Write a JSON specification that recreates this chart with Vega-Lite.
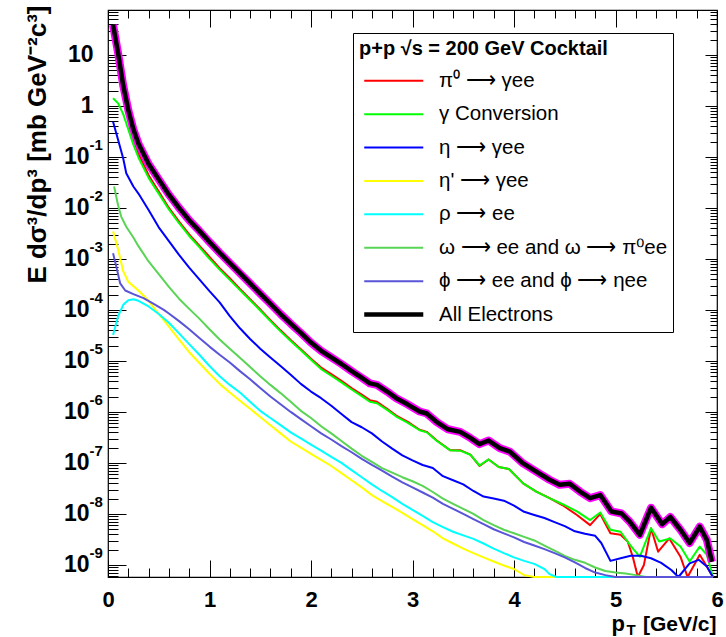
{
  "$schema": "https://vega.github.io/schema/vega-lite/v6.json",
  "width": 609,
  "height": 567,
  "autosize": {"type": "none"},
  "padding": {"left": 108, "top": 10, "right": 9, "bottom": 60},
  "background": "white",
  "config": {
    "view": {"stroke": "black", "strokeWidth": 1.2},
    "axis": {
      "grid": false, "domain": false, "tickColor": "black", "tickWidth": 1,
      "labelColor": "black", "titleColor": "black",
      "labelFont": "Liberation Sans", "titleFont": "Liberation Sans",
      "labelFontWeight": "bold", "titleFontWeight": "bold",
      "labelOverlap": false, "labelFlush": false, "labelBound": false
    }
  },
  "data": {"values": [
    {"s":"π⁰ ⟶ γee","p":0.05,"v":35.5},{"s":"π⁰ ⟶ γee","p":0.1,"v":9.12},{"s":"π⁰ ⟶ γee","p":0.15,"v":2.0},{"s":"π⁰ ⟶ γee","p":0.2,"v":0.603},{"s":"π⁰ ⟶ γee","p":0.25,"v":0.234},{"s":"π⁰ ⟶ γee","p":0.3,"v":0.115},{"s":"π⁰ ⟶ γee","p":0.4,"v":0.0437},{"s":"π⁰ ⟶ γee","p":0.5,"v":0.0209},{"s":"π⁰ ⟶ γee","p":0.6,"v":0.01},{"s":"π⁰ ⟶ γee","p":0.7,"v":0.00537},{"s":"π⁰ ⟶ γee","p":0.8,"v":0.00302},{"s":"π⁰ ⟶ γee","p":0.9,"v":0.00182},{"s":"π⁰ ⟶ γee","p":1.0,"v":0.0011},{"s":"π⁰ ⟶ γee","p":1.1,"v":6.61e-4},{"s":"π⁰ ⟶ γee","p":1.2,"v":4.17e-4},{"s":"π⁰ ⟶ γee","p":1.3,"v":2.57e-4},{"s":"π⁰ ⟶ γee","p":1.4,"v":1.62e-4},{"s":"π⁰ ⟶ γee","p":1.5,"v":1.02e-4},{"s":"π⁰ ⟶ γee","p":1.6,"v":6.31e-5},{"s":"π⁰ ⟶ γee","p":1.7,"v":3.98e-5},{"s":"π⁰ ⟶ γee","p":1.8,"v":2.57e-5},{"s":"π⁰ ⟶ γee","p":1.9,"v":1.7e-5},{"s":"π⁰ ⟶ γee","p":2.0,"v":1.1e-5},{"s":"π⁰ ⟶ γee","p":2.1,"v":7.41e-6},{"s":"π⁰ ⟶ γee","p":2.2,"v":5.5e-6},{"s":"π⁰ ⟶ γee","p":2.3,"v":4.07e-6},{"s":"π⁰ ⟶ γee","p":2.4,"v":2.95e-6},{"s":"π⁰ ⟶ γee","p":2.5,"v":2.19e-6},{"s":"π⁰ ⟶ γee","p":2.58,"v":1.7e-6},{"s":"π⁰ ⟶ γee","p":2.65,"v":1.58e-6},{"s":"π⁰ ⟶ γee","p":2.75,"v":1.15e-6},{"s":"π⁰ ⟶ γee","p":2.84,"v":8.51e-7},{"s":"π⁰ ⟶ γee","p":2.95,"v":6.46e-7},{"s":"π⁰ ⟶ γee","p":3.07,"v":4.47e-7},{"s":"π⁰ ⟶ γee","p":3.14,"v":4.07e-7},{"s":"π⁰ ⟶ γee","p":3.24,"v":2.75e-7},{"s":"π⁰ ⟶ γee","p":3.37,"v":1.78e-7},{"s":"π⁰ ⟶ γee","p":3.47,"v":1.78e-7},{"s":"π⁰ ⟶ γee","p":3.57,"v":1.45e-7},{"s":"π⁰ ⟶ γee","p":3.66,"v":8.71e-8},{"s":"π⁰ ⟶ γee","p":3.75,"v":1.17e-7},{"s":"π⁰ ⟶ γee","p":3.85,"v":8.32e-8},{"s":"π⁰ ⟶ γee","p":3.95,"v":7.59e-8},{"s":"π⁰ ⟶ γee","p":4.09,"v":3.98e-8},{"s":"π⁰ ⟶ γee","p":4.22,"v":2.75e-8},{"s":"π⁰ ⟶ γee","p":4.35,"v":2.04e-8},{"s":"π⁰ ⟶ γee","p":4.48,"v":1.48e-8},{"s":"π⁰ ⟶ γee","p":4.62,"v":9.55e-9},{"s":"π⁰ ⟶ γee","p":4.75,"v":6.03e-9},{"s":"π⁰ ⟶ γee","p":4.85,"v":1.0e-8},{"s":"π⁰ ⟶ γee","p":4.95,"v":4.17e-9},{"s":"π⁰ ⟶ γee","p":5.05,"v":3.89e-9},{"s":"π⁰ ⟶ γee","p":5.12,"v":2.88e-9},{"s":"π⁰ ⟶ γee","p":5.17,"v":1.45e-9},{"s":"π⁰ ⟶ γee","p":5.22,"v":3e-10},{"s":"π⁰ ⟶ γee","p":5.28,"v":1.0e-9},{"s":"π⁰ ⟶ γee","p":5.35,"v":5.25e-9},{"s":"π⁰ ⟶ γee","p":5.42,"v":1.82e-9},{"s":"π⁰ ⟶ γee","p":5.53,"v":3.31e-9},{"s":"π⁰ ⟶ γee","p":5.64,"v":1.45e-9},{"s":"π⁰ ⟶ γee","p":5.71,"v":3e-10},{"s":"π⁰ ⟶ γee","p":5.83,"v":1.58e-9},{"s":"π⁰ ⟶ γee","p":5.9,"v":9.33e-10},{"s":"π⁰ ⟶ γee","p":5.96,"v":3e-10},

    {"s":"γ Conversion","p":0.05,"v":1.41},{"s":"γ Conversion","p":0.1,"v":1.12},{"s":"γ Conversion","p":0.15,"v":0.692},{"s":"γ Conversion","p":0.2,"v":0.347},{"s":"γ Conversion","p":0.25,"v":0.174},{"s":"γ Conversion","p":0.3,"v":0.0977},{"s":"γ Conversion","p":0.4,"v":0.0389},{"s":"γ Conversion","p":0.5,"v":0.0191},{"s":"γ Conversion","p":0.6,"v":0.00933},{"s":"γ Conversion","p":0.7,"v":0.00501},{"s":"γ Conversion","p":0.8,"v":0.00282},{"s":"γ Conversion","p":0.9,"v":0.0017},{"s":"γ Conversion","p":1.0,"v":0.001},{"s":"γ Conversion","p":1.1,"v":6.17e-4},{"s":"γ Conversion","p":1.2,"v":3.89e-4},{"s":"γ Conversion","p":1.3,"v":2.45e-4},{"s":"γ Conversion","p":1.4,"v":1.55e-4},{"s":"γ Conversion","p":1.5,"v":9.77e-5},{"s":"γ Conversion","p":1.6,"v":6.03e-5},{"s":"γ Conversion","p":1.7,"v":3.8e-5},{"s":"γ Conversion","p":1.8,"v":2.45e-5},{"s":"γ Conversion","p":1.9,"v":1.62e-5},{"s":"γ Conversion","p":2.0,"v":1.05e-5},{"s":"γ Conversion","p":2.1,"v":6.92e-6},{"s":"γ Conversion","p":2.2,"v":5.13e-6},{"s":"γ Conversion","p":2.3,"v":3.8e-6},{"s":"γ Conversion","p":2.4,"v":2.75e-6},{"s":"γ Conversion","p":2.5,"v":2.04e-6},{"s":"γ Conversion","p":2.58,"v":1.58e-6},{"s":"γ Conversion","p":2.65,"v":1.48e-6},{"s":"γ Conversion","p":2.75,"v":1.1e-6},{"s":"γ Conversion","p":2.84,"v":8.13e-7},{"s":"γ Conversion","p":2.95,"v":6.17e-7},{"s":"γ Conversion","p":3.07,"v":4.37e-7},{"s":"γ Conversion","p":3.14,"v":3.98e-7},{"s":"γ Conversion","p":3.24,"v":2.69e-7},{"s":"γ Conversion","p":3.37,"v":1.78e-7},{"s":"γ Conversion","p":3.47,"v":1.74e-7},{"s":"γ Conversion","p":3.57,"v":1.45e-7},{"s":"γ Conversion","p":3.66,"v":8.91e-8},{"s":"γ Conversion","p":3.75,"v":1.17e-7},{"s":"γ Conversion","p":3.85,"v":8.32e-8},{"s":"γ Conversion","p":3.95,"v":7.59e-8},{"s":"γ Conversion","p":4.09,"v":3.98e-8},{"s":"γ Conversion","p":4.22,"v":2.75e-8},{"s":"γ Conversion","p":4.35,"v":2.04e-8},{"s":"γ Conversion","p":4.48,"v":1.55e-8},{"s":"γ Conversion","p":4.62,"v":1.12e-8},{"s":"γ Conversion","p":4.75,"v":7.59e-9},{"s":"γ Conversion","p":4.85,"v":1.07e-8},{"s":"γ Conversion","p":4.95,"v":4.9e-9},{"s":"γ Conversion","p":5.05,"v":4.47e-9},{"s":"γ Conversion","p":5.13,"v":2.69e-9},{"s":"γ Conversion","p":5.18,"v":2.0e-9},{"s":"γ Conversion","p":5.24,"v":1.45e-9},{"s":"γ Conversion","p":5.35,"v":5.25e-9},{"s":"γ Conversion","p":5.43,"v":2.88e-9},{"s":"γ Conversion","p":5.54,"v":3.31e-9},{"s":"γ Conversion","p":5.64,"v":2.29e-9},{"s":"γ Conversion","p":5.73,"v":1.17e-9},{"s":"γ Conversion","p":5.83,"v":2.29e-9},{"s":"γ Conversion","p":5.9,"v":1.58e-9},{"s":"γ Conversion","p":5.96,"v":3e-10},

    {"s":"η ⟶ γee","p":0.05,"v":0.49},{"s":"η ⟶ γee","p":0.1,"v":0.214},{"s":"η ⟶ γee","p":0.15,"v":0.0933},{"s":"η ⟶ γee","p":0.18,"v":0.0479},{"s":"η ⟶ γee","p":0.25,"v":0.0263},{"s":"η ⟶ γee","p":0.3,"v":0.0191},{"s":"η ⟶ γee","p":0.4,"v":0.00912},{"s":"η ⟶ γee","p":0.5,"v":0.00417},{"s":"η ⟶ γee","p":0.6,"v":0.00224},{"s":"η ⟶ γee","p":0.7,"v":0.0012},{"s":"η ⟶ γee","p":0.8,"v":6.76e-4},{"s":"η ⟶ γee","p":0.9,"v":3.98e-4},{"s":"η ⟶ γee","p":1.0,"v":2.34e-4},{"s":"η ⟶ γee","p":1.1,"v":1.41e-4},{"s":"η ⟶ γee","p":1.2,"v":7.59e-5},{"s":"η ⟶ γee","p":1.3,"v":4.37e-5},{"s":"η ⟶ γee","p":1.4,"v":2.69e-5},{"s":"η ⟶ γee","p":1.5,"v":1.74e-5},{"s":"η ⟶ γee","p":1.6,"v":1.17e-5},{"s":"η ⟶ γee","p":1.7,"v":7.94e-6},{"s":"η ⟶ γee","p":1.8,"v":5.37e-6},{"s":"η ⟶ γee","p":1.9,"v":3.55e-6},{"s":"η ⟶ γee","p":2.0,"v":2.51e-6},{"s":"η ⟶ γee","p":2.1,"v":1.86e-6},{"s":"η ⟶ γee","p":2.2,"v":1.32e-6},{"s":"η ⟶ γee","p":2.3,"v":9.12e-7},{"s":"η ⟶ γee","p":2.4,"v":6.31e-7},{"s":"η ⟶ γee","p":2.5,"v":5.01e-7},{"s":"η ⟶ γee","p":2.6,"v":3.8e-7},{"s":"η ⟶ γee","p":2.7,"v":2.63e-7},{"s":"η ⟶ γee","p":2.8,"v":1.91e-7},{"s":"η ⟶ γee","p":2.9,"v":1.41e-7},{"s":"η ⟶ γee","p":3.0,"v":1.12e-7},{"s":"η ⟶ γee","p":3.1,"v":9.12e-8},{"s":"η ⟶ γee","p":3.2,"v":7.94e-8},{"s":"η ⟶ γee","p":3.3,"v":5.5e-8},{"s":"η ⟶ γee","p":3.4,"v":4.57e-8},{"s":"η ⟶ γee","p":3.5,"v":3.8e-8},{"s":"η ⟶ γee","p":3.6,"v":2.82e-8},{"s":"η ⟶ γee","p":3.7,"v":2.19e-8},{"s":"η ⟶ γee","p":3.8,"v":2.0e-8},{"s":"η ⟶ γee","p":3.9,"v":1.82e-8},{"s":"η ⟶ γee","p":4.0,"v":1.45e-8},{"s":"η ⟶ γee","p":4.1,"v":1.1e-8},{"s":"η ⟶ γee","p":4.2,"v":9.55e-9},{"s":"η ⟶ γee","p":4.3,"v":8.32e-9},{"s":"η ⟶ γee","p":4.4,"v":6.92e-9},{"s":"η ⟶ γee","p":4.5,"v":5.75e-9},{"s":"η ⟶ γee","p":4.6,"v":4.57e-9},{"s":"η ⟶ γee","p":4.7,"v":4.07e-9},{"s":"η ⟶ γee","p":4.8,"v":3.72e-9},{"s":"η ⟶ γee","p":4.86,"v":2.69e-9},{"s":"η ⟶ γee","p":4.95,"v":1.2e-9},{"s":"η ⟶ γee","p":5.05,"v":1.35e-9},{"s":"η ⟶ γee","p":5.15,"v":1.51e-9},{"s":"η ⟶ γee","p":5.25,"v":1.51e-9},{"s":"η ⟶ γee","p":5.35,"v":1.35e-9},{"s":"η ⟶ γee","p":5.45,"v":1.1e-9},{"s":"η ⟶ γee","p":5.55,"v":7.94e-10},{"s":"η ⟶ γee","p":5.62,"v":3e-10},{"s":"η ⟶ γee","p":5.73,"v":1.07e-9},{"s":"η ⟶ γee","p":5.82,"v":1.26e-9},{"s":"η ⟶ γee","p":5.9,"v":9.33e-10},{"s":"η ⟶ γee","p":5.96,"v":3e-10},

    {"s":"η' ⟶ γee","p":0.05,"v":3.47e-3},{"s":"η' ⟶ γee","p":0.1,"v":1.51e-3},{"s":"η' ⟶ γee","p":0.15,"v":5.75e-4},{"s":"η' ⟶ γee","p":0.2,"v":3.55e-4},{"s":"η' ⟶ γee","p":0.3,"v":2.4e-4},{"s":"η' ⟶ γee","p":0.4,"v":1.51e-4},{"s":"η' ⟶ γee","p":0.5,"v":8.32e-5},{"s":"η' ⟶ γee","p":0.6,"v":4.68e-5},{"s":"η' ⟶ γee","p":0.7,"v":2.63e-5},{"s":"η' ⟶ γee","p":0.8,"v":1.48e-5},{"s":"η' ⟶ γee","p":0.9,"v":9.12e-6},{"s":"η' ⟶ γee","p":1.0,"v":5.62e-6},{"s":"η' ⟶ γee","p":1.1,"v":3.55e-6},{"s":"η' ⟶ γee","p":1.2,"v":2.4e-6},{"s":"η' ⟶ γee","p":1.3,"v":1.66e-6},{"s":"η' ⟶ γee","p":1.4,"v":1.15e-6},{"s":"η' ⟶ γee","p":1.5,"v":7.94e-7},{"s":"η' ⟶ γee","p":1.6,"v":5.5e-7},{"s":"η' ⟶ γee","p":1.7,"v":3.8e-7},{"s":"η' ⟶ γee","p":1.8,"v":2.63e-7},{"s":"η' ⟶ γee","p":1.9,"v":2.0e-7},{"s":"η' ⟶ γee","p":2.0,"v":1.51e-7},{"s":"η' ⟶ γee","p":2.1,"v":1.15e-7},{"s":"η' ⟶ γee","p":2.2,"v":8.71e-8},{"s":"η' ⟶ γee","p":2.3,"v":6.31e-8},{"s":"η' ⟶ γee","p":2.4,"v":4.57e-8},{"s":"η' ⟶ γee","p":2.5,"v":3.31e-8},{"s":"η' ⟶ γee","p":2.6,"v":2.34e-8},{"s":"η' ⟶ γee","p":2.7,"v":1.78e-8},{"s":"η' ⟶ γee","p":2.8,"v":1.38e-8},{"s":"η' ⟶ γee","p":2.9,"v":1.05e-8},{"s":"η' ⟶ γee","p":3.0,"v":7.94e-9},{"s":"η' ⟶ γee","p":3.1,"v":6.03e-9},{"s":"η' ⟶ γee","p":3.2,"v":4.57e-9},{"s":"η' ⟶ γee","p":3.3,"v":3.31e-9},{"s":"η' ⟶ γee","p":3.4,"v":2.63e-9},{"s":"η' ⟶ γee","p":3.5,"v":2.09e-9},{"s":"η' ⟶ γee","p":3.6,"v":1.7e-9},{"s":"η' ⟶ γee","p":3.7,"v":1.41e-9},{"s":"η' ⟶ γee","p":3.8,"v":1.17e-9},{"s":"η' ⟶ γee","p":3.9,"v":9.77e-10},{"s":"η' ⟶ γee","p":4.0,"v":8.32e-10},{"s":"η' ⟶ γee","p":4.1,"v":6.31e-10},{"s":"η' ⟶ γee","p":4.2,"v":3e-10},{"s":"η' ⟶ γee","p":5.96,"v":3e-10},

    {"s":"ρ ⟶ ee","p":0.05,"v":3.24e-5},{"s":"ρ ⟶ ee","p":0.1,"v":7.59e-5},{"s":"ρ ⟶ ee","p":0.15,"v":1.26e-4},{"s":"ρ ⟶ ee","p":0.2,"v":1.55e-4},{"s":"ρ ⟶ ee","p":0.25,"v":1.62e-4},{"s":"ρ ⟶ ee","p":0.3,"v":1.51e-4},{"s":"ρ ⟶ ee","p":0.4,"v":1.17e-4},{"s":"ρ ⟶ ee","p":0.5,"v":8.32e-5},{"s":"ρ ⟶ ee","p":0.6,"v":5.62e-5},{"s":"ρ ⟶ ee","p":0.7,"v":3.47e-5},{"s":"ρ ⟶ ee","p":0.8,"v":2.14e-5},{"s":"ρ ⟶ ee","p":0.9,"v":1.32e-5},{"s":"ρ ⟶ ee","p":1.0,"v":7.94e-6},{"s":"ρ ⟶ ee","p":1.1,"v":5.01e-6},{"s":"ρ ⟶ ee","p":1.2,"v":3.39e-6},{"s":"ρ ⟶ ee","p":1.3,"v":2.4e-6},{"s":"ρ ⟶ ee","p":1.4,"v":1.58e-6},{"s":"ρ ⟶ ee","p":1.5,"v":1.05e-6},{"s":"ρ ⟶ ee","p":1.6,"v":7.59e-7},{"s":"ρ ⟶ ee","p":1.7,"v":5.5e-7},{"s":"ρ ⟶ ee","p":1.8,"v":3.98e-7},{"s":"ρ ⟶ ee","p":1.9,"v":3.02e-7},{"s":"ρ ⟶ ee","p":2.0,"v":2.29e-7},{"s":"ρ ⟶ ee","p":2.1,"v":1.74e-7},{"s":"ρ ⟶ ee","p":2.2,"v":1.32e-7},{"s":"ρ ⟶ ee","p":2.3,"v":1.0e-7},{"s":"ρ ⟶ ee","p":2.4,"v":7.24e-8},{"s":"ρ ⟶ ee","p":2.5,"v":5.25e-8},{"s":"ρ ⟶ ee","p":2.6,"v":3.8e-8},{"s":"ρ ⟶ ee","p":2.7,"v":2.82e-8},{"s":"ρ ⟶ ee","p":2.8,"v":2.14e-8},{"s":"ρ ⟶ ee","p":2.9,"v":1.58e-8},{"s":"ρ ⟶ ee","p":3.0,"v":1.2e-8},{"s":"ρ ⟶ ee","p":3.1,"v":9.12e-9},{"s":"ρ ⟶ ee","p":3.2,"v":6.92e-9},{"s":"ρ ⟶ ee","p":3.3,"v":5.5e-9},{"s":"ρ ⟶ ee","p":3.4,"v":4.47e-9},{"s":"ρ ⟶ ee","p":3.5,"v":3.8e-9},{"s":"ρ ⟶ ee","p":3.6,"v":3.24e-9},{"s":"ρ ⟶ ee","p":3.7,"v":2.63e-9},{"s":"ρ ⟶ ee","p":3.8,"v":2.09e-9},{"s":"ρ ⟶ ee","p":3.9,"v":1.7e-9},{"s":"ρ ⟶ ee","p":4.0,"v":1.41e-9},{"s":"ρ ⟶ ee","p":4.1,"v":1.2e-9},{"s":"ρ ⟶ ee","p":4.2,"v":1.05e-9},{"s":"ρ ⟶ ee","p":4.3,"v":8.32e-10},{"s":"ρ ⟶ ee","p":4.35,"v":6.61e-10},{"s":"ρ ⟶ ee","p":4.42,"v":3e-10},{"s":"ρ ⟶ ee","p":5.96,"v":3e-10},

    {"s":"ω ⟶ ee and ω ⟶ π⁰ee","p":0.06,"v":0.0263},{"s":"ω ⟶ ee and ω ⟶ π⁰ee","p":0.1,"v":0.0112},{"s":"ω ⟶ ee and ω ⟶ π⁰ee","p":0.13,"v":6.76e-3},{"s":"ω ⟶ ee and ω ⟶ π⁰ee","p":0.18,"v":4.27e-3},{"s":"ω ⟶ ee and ω ⟶ π⁰ee","p":0.25,"v":2.63e-3},{"s":"ω ⟶ ee and ω ⟶ π⁰ee","p":0.3,"v":1.78e-3},{"s":"ω ⟶ ee and ω ⟶ π⁰ee","p":0.4,"v":8.91e-4},{"s":"ω ⟶ ee and ω ⟶ π⁰ee","p":0.5,"v":5.01e-4},{"s":"ω ⟶ ee and ω ⟶ π⁰ee","p":0.6,"v":2.82e-4},{"s":"ω ⟶ ee and ω ⟶ π⁰ee","p":0.7,"v":1.66e-4},{"s":"ω ⟶ ee and ω ⟶ π⁰ee","p":0.8,"v":1.05e-4},{"s":"ω ⟶ ee and ω ⟶ π⁰ee","p":0.9,"v":6.76e-5},{"s":"ω ⟶ ee and ω ⟶ π⁰ee","p":1.0,"v":4.17e-5},{"s":"ω ⟶ ee and ω ⟶ π⁰ee","p":1.1,"v":2.63e-5},{"s":"ω ⟶ ee and ω ⟶ π⁰ee","p":1.2,"v":1.74e-5},{"s":"ω ⟶ ee and ω ⟶ π⁰ee","p":1.3,"v":1.15e-5},{"s":"ω ⟶ ee and ω ⟶ π⁰ee","p":1.4,"v":7.59e-6},{"s":"ω ⟶ ee and ω ⟶ π⁰ee","p":1.5,"v":5.01e-6},{"s":"ω ⟶ ee and ω ⟶ π⁰ee","p":1.6,"v":3.39e-6},{"s":"ω ⟶ ee and ω ⟶ π⁰ee","p":1.7,"v":2.34e-6},{"s":"ω ⟶ ee and ω ⟶ π⁰ee","p":1.8,"v":1.58e-6},{"s":"ω ⟶ ee and ω ⟶ π⁰ee","p":1.9,"v":1.05e-6},{"s":"ω ⟶ ee and ω ⟶ π⁰ee","p":2.0,"v":7.59e-7},{"s":"ω ⟶ ee and ω ⟶ π⁰ee","p":2.1,"v":5.25e-7},{"s":"ω ⟶ ee and ω ⟶ π⁰ee","p":2.2,"v":3.8e-7},{"s":"ω ⟶ ee and ω ⟶ π⁰ee","p":2.3,"v":2.69e-7},{"s":"ω ⟶ ee and ω ⟶ π⁰ee","p":2.4,"v":1.91e-7},{"s":"ω ⟶ ee and ω ⟶ π⁰ee","p":2.5,"v":1.38e-7},{"s":"ω ⟶ ee and ω ⟶ π⁰ee","p":2.6,"v":1.05e-7},{"s":"ω ⟶ ee and ω ⟶ π⁰ee","p":2.7,"v":7.94e-8},{"s":"ω ⟶ ee and ω ⟶ π⁰ee","p":2.8,"v":6.46e-8},{"s":"ω ⟶ ee and ω ⟶ π⁰ee","p":2.9,"v":5.25e-8},{"s":"ω ⟶ ee and ω ⟶ π⁰ee","p":3.0,"v":4.37e-8},{"s":"ω ⟶ ee and ω ⟶ π⁰ee","p":3.1,"v":3.55e-8},{"s":"ω ⟶ ee and ω ⟶ π⁰ee","p":3.2,"v":2.69e-8},{"s":"ω ⟶ ee and ω ⟶ π⁰ee","p":3.3,"v":2.0e-8},{"s":"ω ⟶ ee and ω ⟶ π⁰ee","p":3.4,"v":1.58e-8},{"s":"ω ⟶ ee and ω ⟶ π⁰ee","p":3.5,"v":1.26e-8},{"s":"ω ⟶ ee and ω ⟶ π⁰ee","p":3.6,"v":1.0e-8},{"s":"ω ⟶ ee and ω ⟶ π⁰ee","p":3.7,"v":7.59e-9},{"s":"ω ⟶ ee and ω ⟶ π⁰ee","p":3.8,"v":6.03e-9},{"s":"ω ⟶ ee and ω ⟶ π⁰ee","p":3.9,"v":4.9e-9},{"s":"ω ⟶ ee and ω ⟶ π⁰ee","p":4.0,"v":4.17e-9},{"s":"ω ⟶ ee and ω ⟶ π⁰ee","p":4.1,"v":3.55e-9},{"s":"ω ⟶ ee and ω ⟶ π⁰ee","p":4.2,"v":3.02e-9},{"s":"ω ⟶ ee and ω ⟶ π⁰ee","p":4.3,"v":2.4e-9},{"s":"ω ⟶ ee and ω ⟶ π⁰ee","p":4.4,"v":1.91e-9},{"s":"ω ⟶ ee and ω ⟶ π⁰ee","p":4.5,"v":1.51e-9},{"s":"ω ⟶ ee and ω ⟶ π⁰ee","p":4.6,"v":1.26e-9},{"s":"ω ⟶ ee and ω ⟶ π⁰ee","p":4.7,"v":1.1e-9},{"s":"ω ⟶ ee and ω ⟶ π⁰ee","p":4.8,"v":8.91e-10},{"s":"ω ⟶ ee and ω ⟶ π⁰ee","p":4.9,"v":7.59e-10},{"s":"ω ⟶ ee and ω ⟶ π⁰ee","p":5.0,"v":7.08e-10},{"s":"ω ⟶ ee and ω ⟶ π⁰ee","p":5.1,"v":6.76e-10},{"s":"ω ⟶ ee and ω ⟶ π⁰ee","p":5.2,"v":6.31e-10},{"s":"ω ⟶ ee and ω ⟶ π⁰ee","p":5.3,"v":3e-10},{"s":"ω ⟶ ee and ω ⟶ π⁰ee","p":5.96,"v":3e-10},

    {"s":"ϕ ⟶ ee and ϕ ⟶ ηee","p":0.05,"v":1.29e-3},{"s":"ϕ ⟶ ee and ϕ ⟶ ηee","p":0.09,"v":6.03e-4},{"s":"ϕ ⟶ ee and ϕ ⟶ ηee","p":0.12,"v":3.31e-4},{"s":"ϕ ⟶ ee and ϕ ⟶ ηee","p":0.17,"v":2.4e-4},{"s":"ϕ ⟶ ee and ϕ ⟶ ηee","p":0.25,"v":2.04e-4},{"s":"ϕ ⟶ ee and ϕ ⟶ ηee","p":0.35,"v":1.7e-4},{"s":"ϕ ⟶ ee and ϕ ⟶ ηee","p":0.45,"v":1.32e-4},{"s":"ϕ ⟶ ee and ϕ ⟶ ηee","p":0.55,"v":1.0e-4},{"s":"ϕ ⟶ ee and ϕ ⟶ ηee","p":0.6,"v":8.51e-5},{"s":"ϕ ⟶ ee and ϕ ⟶ ηee","p":0.7,"v":6.03e-5},{"s":"ϕ ⟶ ee and ϕ ⟶ ηee","p":0.8,"v":4.17e-5},{"s":"ϕ ⟶ ee and ϕ ⟶ ηee","p":0.9,"v":2.82e-5},{"s":"ϕ ⟶ ee and ϕ ⟶ ηee","p":1.0,"v":1.91e-5},{"s":"ϕ ⟶ ee and ϕ ⟶ ηee","p":1.1,"v":1.32e-5},{"s":"ϕ ⟶ ee and ϕ ⟶ ηee","p":1.2,"v":9.33e-6},{"s":"ϕ ⟶ ee and ϕ ⟶ ηee","p":1.3,"v":6.31e-6},{"s":"ϕ ⟶ ee and ϕ ⟶ ηee","p":1.4,"v":4.37e-6},{"s":"ϕ ⟶ ee and ϕ ⟶ ηee","p":1.5,"v":2.95e-6},{"s":"ϕ ⟶ ee and ϕ ⟶ ηee","p":1.6,"v":2.0e-6},{"s":"ϕ ⟶ ee and ϕ ⟶ ηee","p":1.7,"v":1.41e-6},{"s":"ϕ ⟶ ee and ϕ ⟶ ηee","p":1.8,"v":1.0e-6},{"s":"ϕ ⟶ ee and ϕ ⟶ ηee","p":1.9,"v":7.24e-7},{"s":"ϕ ⟶ ee and ϕ ⟶ ηee","p":2.0,"v":5.25e-7},{"s":"ϕ ⟶ ee and ϕ ⟶ ηee","p":2.1,"v":3.8e-7},{"s":"ϕ ⟶ ee and ϕ ⟶ ηee","p":2.2,"v":2.88e-7},{"s":"ϕ ⟶ ee and ϕ ⟶ ηee","p":2.3,"v":2.14e-7},{"s":"ϕ ⟶ ee and ϕ ⟶ ηee","p":2.4,"v":1.62e-7},{"s":"ϕ ⟶ ee and ϕ ⟶ ηee","p":2.5,"v":1.2e-7},{"s":"ϕ ⟶ ee and ϕ ⟶ ηee","p":2.6,"v":9.12e-8},{"s":"ϕ ⟶ ee and ϕ ⟶ ηee","p":2.7,"v":7.08e-8},{"s":"ϕ ⟶ ee and ϕ ⟶ ηee","p":2.8,"v":5.37e-8},{"s":"ϕ ⟶ ee and ϕ ⟶ ηee","p":2.9,"v":4.17e-8},{"s":"ϕ ⟶ ee and ϕ ⟶ ηee","p":3.0,"v":3.31e-8},{"s":"ϕ ⟶ ee and ϕ ⟶ ηee","p":3.1,"v":2.63e-8},{"s":"ϕ ⟶ ee and ϕ ⟶ ηee","p":3.2,"v":2.09e-8},{"s":"ϕ ⟶ ee and ϕ ⟶ ηee","p":3.3,"v":1.58e-8},{"s":"ϕ ⟶ ee and ϕ ⟶ ηee","p":3.4,"v":1.26e-8},{"s":"ϕ ⟶ ee and ϕ ⟶ ηee","p":3.5,"v":1.0e-8},{"s":"ϕ ⟶ ee and ϕ ⟶ ηee","p":3.6,"v":7.94e-9},{"s":"ϕ ⟶ ee and ϕ ⟶ ηee","p":3.7,"v":6.31e-9},{"s":"ϕ ⟶ ee and ϕ ⟶ ηee","p":3.8,"v":5.01e-9},{"s":"ϕ ⟶ ee and ϕ ⟶ ηee","p":3.9,"v":4.17e-9},{"s":"ϕ ⟶ ee and ϕ ⟶ ηee","p":4.0,"v":3.47e-9},{"s":"ϕ ⟶ ee and ϕ ⟶ ηee","p":4.1,"v":2.82e-9},{"s":"ϕ ⟶ ee and ϕ ⟶ ηee","p":4.2,"v":2.4e-9},{"s":"ϕ ⟶ ee and ϕ ⟶ ηee","p":4.3,"v":2.04e-9},{"s":"ϕ ⟶ ee and ϕ ⟶ ηee","p":4.4,"v":1.7e-9},{"s":"ϕ ⟶ ee and ϕ ⟶ ηee","p":4.5,"v":1.41e-9},{"s":"ϕ ⟶ ee and ϕ ⟶ ηee","p":4.6,"v":1.12e-9},{"s":"ϕ ⟶ ee and ϕ ⟶ ηee","p":4.7,"v":8.71e-10},{"s":"ϕ ⟶ ee and ϕ ⟶ ηee","p":4.8,"v":7.08e-10},{"s":"ϕ ⟶ ee and ϕ ⟶ ηee","p":4.9,"v":6.31e-10},{"s":"ϕ ⟶ ee and ϕ ⟶ ηee","p":5.0,"v":5.75e-10},{"s":"ϕ ⟶ ee and ϕ ⟶ ηee","p":5.1,"v":3e-10},{"s":"ϕ ⟶ ee and ϕ ⟶ ηee","p":5.96,"v":3e-10},

    {"s":"All Electrons","p":0.05,"v":38.9},{"s":"All Electrons","p":0.1,"v":10.7},{"s":"All Electrons","p":0.15,"v":2.51},{"s":"All Electrons","p":0.2,"v":0.832},{"s":"All Electrons","p":0.25,"v":0.347},{"s":"All Electrons","p":0.3,"v":0.182},{"s":"All Electrons","p":0.4,"v":0.0724},{"s":"All Electrons","p":0.5,"v":0.0363},{"s":"All Electrons","p":0.6,"v":0.0182},{"s":"All Electrons","p":0.7,"v":0.01},{"s":"All Electrons","p":0.8,"v":0.00575},{"s":"All Electrons","p":0.9,"v":0.00355},{"s":"All Electrons","p":1.0,"v":0.00214},{"s":"All Electrons","p":1.1,"v":0.00132},{"s":"All Electrons","p":1.2,"v":8.32e-4},{"s":"All Electrons","p":1.3,"v":5.25e-4},{"s":"All Electrons","p":1.4,"v":3.31e-4},{"s":"All Electrons","p":1.5,"v":2.09e-4},{"s":"All Electrons","p":1.6,"v":1.32e-4},{"s":"All Electrons","p":1.7,"v":8.32e-5},{"s":"All Electrons","p":1.8,"v":5.37e-5},{"s":"All Electrons","p":1.9,"v":3.55e-5},{"s":"All Electrons","p":2.0,"v":2.29e-5},{"s":"All Electrons","p":2.1,"v":1.58e-5},{"s":"All Electrons","p":2.2,"v":1.17e-5},{"s":"All Electrons","p":2.3,"v":8.71e-6},{"s":"All Electrons","p":2.4,"v":6.31e-6},{"s":"All Electrons","p":2.5,"v":4.68e-6},{"s":"All Electrons","p":2.58,"v":3.63e-6},{"s":"All Electrons","p":2.65,"v":3.39e-6},{"s":"All Electrons","p":2.75,"v":2.51e-6},{"s":"All Electrons","p":2.84,"v":1.86e-6},{"s":"All Electrons","p":2.95,"v":1.41e-6},{"s":"All Electrons","p":3.07,"v":1.02e-6},{"s":"All Electrons","p":3.14,"v":9.33e-7},{"s":"All Electrons","p":3.24,"v":6.31e-7},{"s":"All Electrons","p":3.35,"v":4.57e-7},{"s":"All Electrons","p":3.47,"v":4.07e-7},{"s":"All Electrons","p":3.57,"v":3.09e-7},{"s":"All Electrons","p":3.66,"v":2.34e-7},{"s":"All Electrons","p":3.75,"v":2.75e-7},{"s":"All Electrons","p":3.86,"v":1.95e-7},{"s":"All Electrons","p":3.96,"v":1.66e-7},{"s":"All Electrons","p":4.09,"v":9.77e-8},{"s":"All Electrons","p":4.22,"v":6.76e-8},{"s":"All Electrons","p":4.35,"v":4.68e-8},{"s":"All Electrons","p":4.45,"v":3.72e-8},{"s":"All Electrons","p":4.55,"v":3.89e-8},{"s":"All Electrons","p":4.65,"v":2.75e-8},{"s":"All Electrons","p":4.75,"v":2.04e-8},{"s":"All Electrons","p":4.85,"v":2.34e-8},{"s":"All Electrons","p":4.96,"v":1.12e-8},{"s":"All Electrons","p":5.06,"v":1.02e-8},{"s":"All Electrons","p":5.14,"v":7.08e-9},{"s":"All Electrons","p":5.24,"v":3.89e-9},{"s":"All Electrons","p":5.35,"v":1.32e-8},{"s":"All Electrons","p":5.46,"v":6.31e-9},{"s":"All Electrons","p":5.54,"v":8.71e-9},{"s":"All Electrons","p":5.64,"v":4.9e-9},{"s":"All Electrons","p":5.73,"v":2.69e-9},{"s":"All Electrons","p":5.83,"v":5.62e-9},{"s":"All Electrons","p":5.9,"v":3.09e-9},{"s":"All Electrons","p":5.95,"v":1.15e-9}
  ]},
  "layer": [
    {
      "transform": [{"filter": "datum.s !== 'All Electrons'"}],
      "mark": {"type": "line", "strokeWidth": 2, "strokeJoin": "round"},
      "encoding": {
        "x": {
          "field": "p", "type": "quantitative",
          "scale": {"domain": [0, 6], "nice": false, "zero": false},
          "axis": {
            "orient": "bottom",
            "values": [0,0.2,0.4,0.6,0.8,1,1.2,1.4,1.6,1.8,2,2.2,2.4,2.6,2.8,3,3.2,3.4,3.6,3.8,4,4.2,4.4,4.6,4.8,5,5.2,5.4,5.6,5.8,6],
            "labelExpr": "abs(datum.value - round(datum.value)) < 0.001 ? toString(round(datum.value)) : ''",
            "tickSize": {"condition": {"test": "abs(datum.value - round(datum.value)) < 0.001", "value": -17}, "value": -9},
            "labelPadding": 29,
            "labelFontSize": 22,
            "title": "[GeV/c]",
            "titleFontSize": 21,
            "titleX": 608, "titleY": 53,
            "titleAlign": "right", "titleBaseline": "alphabetic"
          }
        },
        "y": {
          "field": "v", "type": "quantitative",
          "scale": {"type": "log", "domain": [5.8e-10, 76], "clamp": true, "nice": false},
          "axis": {
            "orient": "left",
            "values": [6e-10,7e-10,8e-10,9e-10,1e-9,2e-9,3e-9,4e-9,5e-9,6e-9,7e-9,8e-9,9e-9,1e-8,2e-8,3e-8,4e-8,5e-8,6e-8,7e-8,8e-8,9e-8,1e-7,2e-7,3e-7,4e-7,5e-7,6e-7,7e-7,8e-7,9e-7,1e-6,2e-6,3e-6,4e-6,5e-6,6e-6,7e-6,8e-6,9e-6,1e-5,2e-5,3e-5,4e-5,5e-5,6e-5,7e-5,8e-5,9e-5,1e-4,2e-4,3e-4,4e-4,5e-4,6e-4,7e-4,8e-4,9e-4,0.001,0.002,0.003,0.004,0.005,0.006,0.007,0.008,0.009,0.01,0.02,0.03,0.04,0.05,0.06,0.07,0.08,0.09,0.1,0.2,0.3,0.4,0.5,0.6,0.7,0.8,0.9,1,2,3,4,5,6,7,8,9,10,20,30,40,50,60,70],
            "labelExpr": "abs(log(datum.value)/LN10 - round(log(datum.value)/LN10)) < 0.001 ? (round(log(datum.value)/LN10) == 0 ? '1' : '10') : ''",
            "tickSize": {"condition": {"test": "abs(log(datum.value)/LN10 - round(log(datum.value)/LN10)) < 0.001", "value": -18}, "value": -10},
            "labelPadding": {"condition": {"test": "datum.value > 0.5", "value": 33}, "value": 37},
            "labelFontSize": 23,
            "labelAlign": "right",
            "labelBaseline": "middle",
            "title": "E dσ³/dp³ [mb GeV⁻²c³]",
            "titleFontSize": 26,
            "titleAngle": 270,
            "titleX": -71, "titleY": -5,
            "titleAlign": "right", "titleBaseline": "middle"
          }
        },
        "color": {
          "field": "s", "type": "nominal",
          "scale": {
            "domain": ["π⁰ ⟶ γee", "γ Conversion", "η ⟶ γee", "η' ⟶ γee", "ρ ⟶ ee", "ω ⟶ ee and ω ⟶ π⁰ee", "ϕ ⟶ ee and ϕ ⟶ ηee", "All Electrons"],
            "range": ["#ff0000", "#00ff00", "#0000ff", "#ffff00", "#00ffff", "#59d454", "#5954d8", "#000000"]
          },
          "legend": {
            "orient": "none", "legendX": 245, "legendY": 23,
            "title": "p+p √s = 200 GeV Cocktail              ",
            "titleFont": "Liberation Sans", "titleFontSize": 20, "titleFontWeight": "bold", "titleColor": "black",
            "titlePadding": 11.5, "titleLimit": 600,
            "labelFont": "Liberation Sans", "labelFontSize": 20.5, "labelColor": "black", "labelLimit": 400,
            "symbolType": "M-2.46,0H2.46", "symbolSize": 576, "symbolStrokeWidth": 2,
            "symbolOffset": 24.5, "labelOffset": 35,
            "rowPadding": 12.4, "padding": 6,
            "strokeColor": "black", "fillColor": "white",
            "encode": {"symbols": {"update": {"strokeWidth": {"signal": "datum.value === 'All Electrons' ? 4.5 : 2"}}}}
          }
        }
      }
    },
    {
      "transform": [{"filter": "datum.s === 'All Electrons'"}],
      "mark": {"type": "line", "color": "#ff00ff", "strokeWidth": 8, "strokeJoin": "round"},
      "encoding": {
        "x": {
          "field": "p", "type": "quantitative",
          "scale": {"domain": [0, 6], "nice": false, "zero": false},
          "axis": {
            "orient": "top",
            "values": [0,0.2,0.4,0.6,0.8,1,1.2,1.4,1.6,1.8,2,2.2,2.4,2.6,2.8,3,3.2,3.4,3.6,3.8,4,4.2,4.4,4.6,4.8,5,5.2,5.4,5.6,5.8,6],
            "labels": false,
            "tickSize": {"condition": {"test": "abs(datum.value - round(datum.value)) < 0.001", "value": -17}, "value": -8},
            "title": "p",
            "titleFontSize": 22,
            "titleX": 503, "titleY": 620,
            "titleAlign": "left", "titleBaseline": "alphabetic"
          }
        },
        "y": {
          "field": "v", "type": "quantitative",
          "scale": {"type": "log", "domain": [5.8e-10, 76], "clamp": true, "nice": false},
          "axis": {
            "orient": "right",
            "values": [6e-10,7e-10,8e-10,9e-10,1e-9,2e-9,3e-9,4e-9,5e-9,6e-9,7e-9,8e-9,9e-9,1e-8,2e-8,3e-8,4e-8,5e-8,6e-8,7e-8,8e-8,9e-8,1e-7,2e-7,3e-7,4e-7,5e-7,6e-7,7e-7,8e-7,9e-7,1e-6,2e-6,3e-6,4e-6,5e-6,6e-6,7e-6,8e-6,9e-6,1e-5,2e-5,3e-5,4e-5,5e-5,6e-5,7e-5,8e-5,9e-5,1e-4,2e-4,3e-4,4e-4,5e-4,6e-4,7e-4,8e-4,9e-4,0.001,0.002,0.003,0.004,0.005,0.006,0.007,0.008,0.009,0.01,0.02,0.03,0.04,0.05,0.06,0.07,0.08,0.09,0.1,0.2,0.3,0.4,0.5,0.6,0.7,0.8,0.9,1,2,3,4,5,6,7,8,9,10,20,30,40,50,60,70],
            "labels": false,
            "tickSize": {"condition": {"test": "abs(log(datum.value)/LN10 - round(log(datum.value)/LN10)) < 0.001", "value": -12}, "value": -7},
            "title": null
          }
        }
      }
    },
    {
      "transform": [{"filter": "datum.s === 'All Electrons'"}],
      "mark": {"type": "line", "color": "black", "strokeWidth": 4.5, "strokeJoin": "round"},
      "encoding": {
        "x": {
          "field": "p", "type": "quantitative",
          "scale": {"domain": [0, 6], "nice": false, "zero": false},
          "axis": {
            "orient": "bottom", "ticks": false, "labels": false,
            "title": "T", "titleFontSize": 15,
            "titleX": 518, "titleY": 57,
            "titleAlign": "left", "titleBaseline": "alphabetic"
          }
        },
        "y": {
          "field": "v", "type": "quantitative",
          "scale": {"type": "log", "domain": [5.8e-10, 76], "clamp": true, "nice": false},
          "axis": {
            "orient": "left",
            "values": [0.1,0.01,0.001,1e-4,1e-5,1e-6,1e-7,1e-8,1e-9],
            "ticks": false,
            "labelExpr": "'-' + toString(round(-log(datum.value)/LN10))",
            "labelFontSize": 15,
            "labelAlign": "left", "labelBaseline": "middle",
            "labelPadding": 19, "labelOffset": -12,
            "title": null
          }
        }
      }
    }
  ],
  "resolve": {"axis": {"x": "independent", "y": "independent"}}
}
